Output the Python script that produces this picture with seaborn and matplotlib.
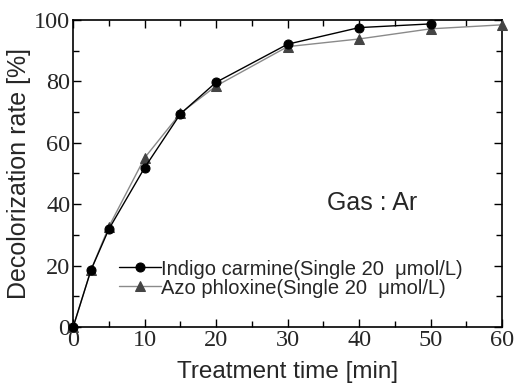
import numpy as np
import pandas as pd
import matplotlib
matplotlib.use("Agg")
import matplotlib.pyplot as plt
import seaborn as sns

# Dados
tempo_indigo = [0, 2.5, 5, 10, 15, 20, 30, 40, 50]
taxa_indigo = [0, 18.6, 31.9, 51.9, 69.4, 79.7, 92.1, 97.5, 98.7]

tempo_azo = [0, 2.5, 5, 10, 15, 20, 30, 40, 50, 60]
taxa_azo = [0, 18.6, 32.7, 55.1, 69.6, 78.5, 91.3, 93.8, 97.1, 98.4]

rotulo_indigo = "Indigo carmine(Single 20  \u03bcmol/L)"
rotulo_azo = "Azo phloxine(Single 20  \u03bcmol/L)"

df_indigo = pd.DataFrame({"t": tempo_indigo, "r": taxa_indigo})
df_azo = pd.DataFrame({"t": tempo_azo, "r": taxa_azo})

sns.set_style("ticks")
plt.rcParams["font.family"] = ["Liberation Serif", "DejaVu Serif"]

fig = plt.figure(figsize=(5.15, 3.83), dpi=100)
ax = fig.add_axes([0.142, 0.146, 0.833, 0.802])

sns.lineplot(data=df_indigo, x="t", y="r", ax=ax, color="black", lw=1.0,
             marker="o", markersize=6.5, markerfacecolor="black",
             markeredgecolor="black", label=rotulo_indigo, clip_on=False, zorder=4)
sns.lineplot(data=df_azo, x="t", y="r", ax=ax, color="#8a8a8a", lw=1.0,
             marker="^", markersize=7.5, markerfacecolor="#444444",
             markeredgecolor="#444444", label=rotulo_azo, clip_on=False, zorder=3)

ax.set_xlim(0, 60)
ax.set_ylim(0, 100)
ax.set_xticks(np.arange(0, 61, 10))
ax.set_xticks(np.arange(0, 61, 5), minor=True)
ax.set_yticks(np.arange(0, 101, 20))
ax.set_yticks(np.arange(0, 101, 10), minor=True)
ax.tick_params(which="both", direction="in", top=True, right=True,
               width=1.0, color="black", labelsize=17.5, pad=2)
ax.tick_params(which="major", length=6)
ax.tick_params(which="minor", length=4)
for s in ax.spines.values():
    s.set_linewidth(1.2)
    s.set_color("black")

ax.set_xlabel("Treatment time [min]", fontsize=17.5, family="Liberation Sans", labelpad=7)
ax.set_ylabel("Decolorization rate [%]", fontsize=18, family="Liberation Sans", labelpad=2)

ax.text(41.8, 40.4, "Gas : Ar", fontsize=18, family="Liberation Sans", ha="center", va="center")

leg = ax.legend(loc="upper left", bbox_to_anchor=(0.107, 0.22), frameon=False,
                prop={"family": "Liberation Sans", "size": 14.5},
                handlelength=2.1, handletextpad=0.0, labelspacing=0.0,
                borderpad=0, borderaxespad=0)

fig.savefig("out.png", dpi=100)
